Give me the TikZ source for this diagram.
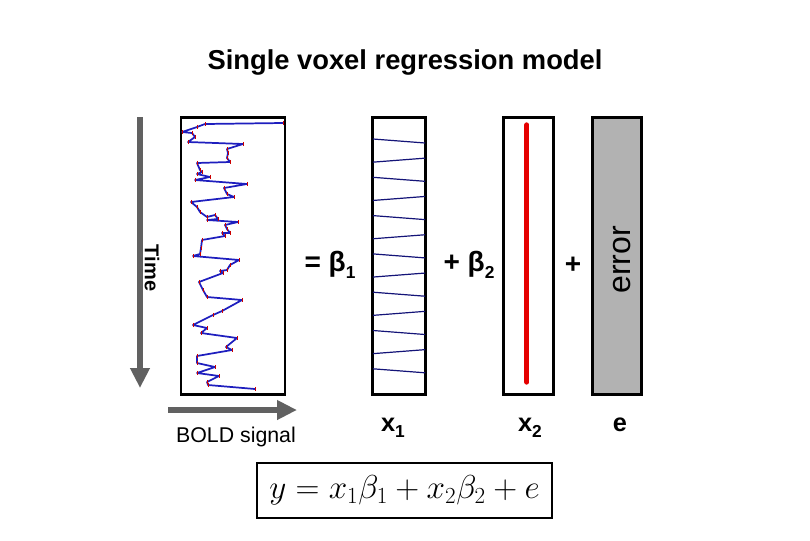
\documentclass[tikz,border=0pt]{standalone}
\usepackage{amsmath}
\usepackage{fontspec}
\setsansfont{Liberation Sans}
\usetikzlibrary{arrows.meta, positioning, calc}

\newcommand{\lowsub}[1]{\raisebox{-0.45ex}{\fontsize{13}{13}\selectfont #1}}
\newcommand{\boldsamples}{283/123, 205/124, 197/127, 182/132, 192/133, 195/137, 188/142,
    243/144, 227/149, 228/153, 227/158, 230/162, 197/163, 200/170,
    202/172, 197/174, 210/177, 195/180, 247/184, 224/188, 227/194,
    234/197, 191/202, 197/207, 200/212, 207/217, 215/215, 218/219,
    207/220, 238/222, 225/225, 227/229, 230/233, 222/233, 225/236,
    202/240, 201/248, 200/254, 193/256, 239/260, 230/265, 227/270,
    220/271, 223/273, 199/282, 203/290, 207/297, 242/300, 222/311,
    213/315, 193/325, 207/328, 201/333, 237/338, 226/347, 232/350,
    197/356, 197/363, 215/367, 197/373, 219/376, 207/382, 208/385,
    255/389}

\begin{document}
\begin{tikzpicture}[
    x=0.75pt, y=-0.75pt,
    every node/.style={font=\sffamily, align=center},
    column/.style={rectangle, draw, line width=2.2pt, inner sep=0pt, minimum width=#1, minimum height=208pt},
    bigsign/.style={font=\sffamily\bfseries\fontsize{21}{24}\selectfont},
    varlabel/.style={font=\sffamily\bfseries\fontsize{19}{21}\selectfont},
    grayarrow/.style={-{Triangle[length=15pt, width=14pt]}, line width=5pt, draw=black!62},
    trace/.style={draw={rgb,255:red,30;green,30;blue,190}, line width=1.3pt, line join=round},
    tick/.style={draw=red!80!black, line width=0.7pt},
    wave/.style={draw={rgb,255:red,20;green,20;blue,120}, line width=0.9pt}
]
\useasboundingbox (0,0) rectangle (810,540);

% Title
\node (title) at (405,62) {\bfseries\fontsize{20.5}{24}\selectfont Single voxel regression model};

% Columns
\node (boldbox) [column=78pt] at (233,256) {};
\node (xone) [column=40pt] at (399,256) {};
\node (xtwo) [column=37.5pt] at (528.3,256) {};
\node (errbox) [column=37pt, fill=black!30] at (617.2,256) {};

% Time and signal axes
\coordinate (timetop) at (140,117);
\coordinate (timebot) at (140,388);
\coordinate (sigleft) at (168,410);
\coordinate (sigright) at (297,410);
\draw [grayarrow] (timetop) -- (timebot);
\draw [grayarrow] (sigleft) -- (sigright);
\node (time) [rotate=-90, font=\sffamily\bfseries\fontsize{15}{18}\selectfont] at (152,268) {Time};
\node (boldlabel) [font=\sffamily\fontsize{16}{19}\selectfont] at (236,437) {BOLD signal};

% BOLD time course
\draw [trace] (283,123) \foreach \sx/\sy in \boldsamples { -- (\sx,\sy) };
\foreach \sx/\sy in \boldsamples {
    \draw [tick] (\sx,\sy-2.2) -- (\sx,\sy+2.2);
}

% Regressor 1
\foreach \i in {0,...,12} {
    \pgfmathsetmacro{\yc}{141+19.15*\i}
    \pgfmathsetmacro{\tilt}{ifthenelse(mod(\i,2)==0,2,-2)}
    \draw [wave] (373,\yc-\tilt) -- (425,\yc+\tilt);
}

% Regressor 2
\coordinate (rtop) at ($(xtwo.north)+(-1.5,9)$);
\coordinate (rbot) at ($(xtwo.south)+(-1.5,-14)$);
\draw [draw=red!90!black, line width=3.8pt, line cap=round] (rtop) -- (rbot);

% Error
\node (errlabel) [rotate=90, font=\sffamily\fontsize{24}{28}\selectfont] at (622.5,260) {error};

% Signs
\node (eqone) [bigsign] at (330,265) {= β\lowsub{1}};
\node (plusone) [bigsign] at (469,265) {+ β\lowsub{2}};
\node (plustwo) [bigsign] at (573,265) {+};

% Labels
\node (xonelabel) [varlabel] at (393,428) {x\lowsub{1}};
\node (xtwolabel) [varlabel] at (530,428) {x\lowsub{2}};
\node (elabel) [varlabel] at (620,425) {e};

% Model
\node (model) [draw, line width=1.5pt, minimum width=221pt, minimum height=41pt] at (404.5,490.5)
    {\fontsize{26}{30}\selectfont $y = x_1\beta_1 + x_2\beta_2 + e$};

\end{tikzpicture}
\end{document}
